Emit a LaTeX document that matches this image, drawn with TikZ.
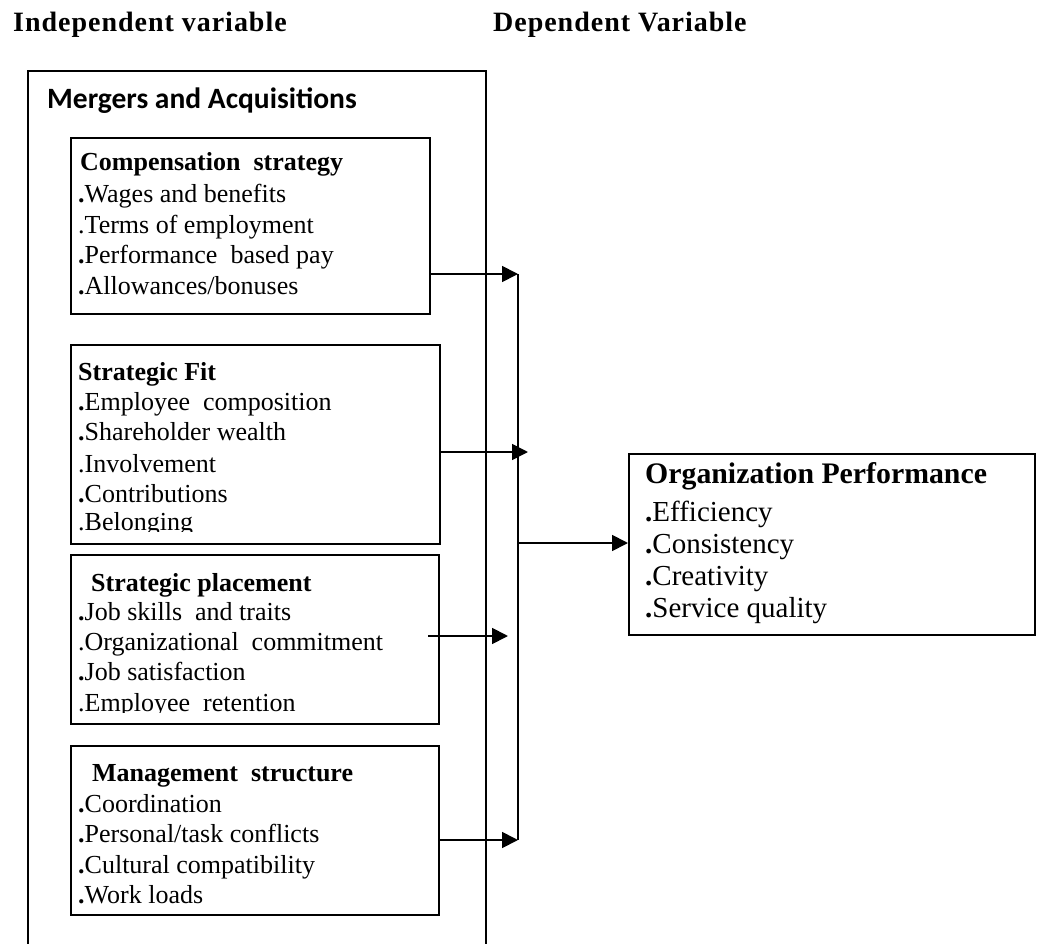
\documentclass[tikz,border=0pt]{standalone}
\usepackage{fontspec}
\setmainfont{Liberation Serif}
\newfontfamily\calib{Carlito}
\newfontfamily\hdrfont[LetterSpace=3.5]{Liberation Serif}
\usetikzlibrary{arrows.meta}
\newcommand\itemdot{\textbf{.}}
\begin{document}
\begin{tikzpicture}[x=1pt,y=-1pt,
  box/.style={draw, line width=1.6pt, inner sep=0pt, anchor=north west},
  conn/.style={line width=1.8pt},
  arr/.style={conn, -{Triangle[length=16pt,width=16pt]}},
  txt/.style={anchor=base west, inner sep=0pt, font=\fontsize{26}{30}\selectfont},
  ttl/.style={anchor=base west, inner sep=0pt, font=\fontsize{26}{30}\selectfont\bfseries},
  otxt/.style={anchor=base west, inner sep=0pt, font=\fontsize{29}{32}\selectfont},
  ottl/.style={anchor=base west, inner sep=0pt, font=\fontsize{29.8}{32}\selectfont\bfseries},
  hdr/.style={anchor=base west, inner sep=0pt, font=\hdrfont\fontsize{28}{30}\selectfont\bfseries},
]
\useasboundingbox (0,0) rectangle (1037,944);

% headers
\node[hdr] (hind) at (13,32) {Independent variable};
\node[hdr] (hdep) at (493,32) {Dependent Variable};

% outer container
\coordinate (obl) at (28,944);
\coordinate (otl) at (28,71);
\coordinate (otr) at (486,71);
\coordinate (obr) at (486,944);
\draw[line width=1.6pt] (obl) -- (otl) -- (otr) -- (obr);
\node[anchor=base west, inner sep=0pt, font=\calib\bfseries\fontsize{29.5}{30}\selectfont] (ma) at (47,109) {Mergers and Acquisitions};

% boxes
\node[box, minimum width=359pt, minimum height=176pt] (comp) at (70,137) {};
\node[box, minimum width=369pt, minimum height=199pt] (fit) at (70,344) {};
\node[box, minimum width=368pt, minimum height=169pt] (place) at (70,554) {};
\node[box, minimum width=368pt, minimum height=169pt] (mgmt) at (70,745) {};
\node[box, minimum width=406pt, minimum height=181pt] (org) at (628,453) {};

% compensation
\node[ttl] (c0) at (80,171) {Compensation\ \ strategy};
\node[txt] (c1) at (78,203) {\itemdot Wages and benefits};
\node[txt] (c2) at (78,234) {.Terms of employment};
\node[txt] (c3) at (78,264) {\itemdot Performance\ \ based pay};
\node[txt] (c4) at (78,295) {\itemdot Allowances/bonuses};

% strategic fit
\node[ttl] (f0) at (78,380) {Strategic Fit};
\node[txt] (f1) at (78,410) {\itemdot Employee\ \ composition};
\node[txt] (f2) at (78,440) {\itemdot Shareholder wealth};
\node[txt] (f3) at (78,472) {.Involvement};
\node[txt] (f4) at (78,502) {\itemdot Contributions};
\begin{scope}
  \clip (70,344) rectangle (439,531.5);
  \node[txt] (f5) at (78,530) {.Belonging};
\end{scope}

% strategic placement
\node[ttl] (p0) at (91,591) {Strategic placement};
\node[txt] (p1) at (78,620) {\itemdot Job skills\ \ and traits};
\node[txt] (p2) at (78,650) {.Organizational\ \ commitment};
\node[txt] (p3) at (78,680) {\itemdot Job satisfaction};
\begin{scope}
  \clip (70,554) rectangle (438,712);
  \node[txt] (p4) at (78,711) {.Employee\ \ retention};
\end{scope}

% management structure
\node[ttl] (m0) at (92,781) {Management\ \ structure};
\node[txt] (m1) at (78,812) {\itemdot Coordination};
\node[txt] (m2) at (78,842) {\itemdot Personal/task conflicts};
\node[txt] (m3) at (78,873) {\itemdot Cultural compatibility};
\node[txt] (m4) at (78,903) {\itemdot Work loads};

% organization performance
\node[ottl] (o0) at (645,483) {Organization Performance};
\node[otxt] (o1) at (645,521.5) {\itemdot Efficiency};
\node[otxt] (o2) at (645,553.5) {\itemdot Consistency};
\node[otxt] (o3) at (645,585.5) {\itemdot Creativity};
\begin{scope}
  \clip (628,453) rectangle (1034,623);
  \node[otxt] (o4) at (645,617.5) {\itemdot Service quality};
\end{scope}

% connectors
\coordinate (j1) at (518,274);
\coordinate (t2) at (528,452);
\coordinate (s3) at (428,636);
\coordinate (t3) at (508,636);
\coordinate (j4) at (518,840);
\coordinate (jm) at (518,543);
\draw[arr] (comp.east |- j1) -- (j1);
\draw[arr] (fit.east |- t2) -- (t2);
\draw[arr] (s3) -- (t3);
\draw[arr] (mgmt.east |- j4) -- (j4);
\draw[conn] (j1) -- (j4);
\draw[arr] (jm) -- (org.west |- jm);
\end{tikzpicture}
\end{document}
